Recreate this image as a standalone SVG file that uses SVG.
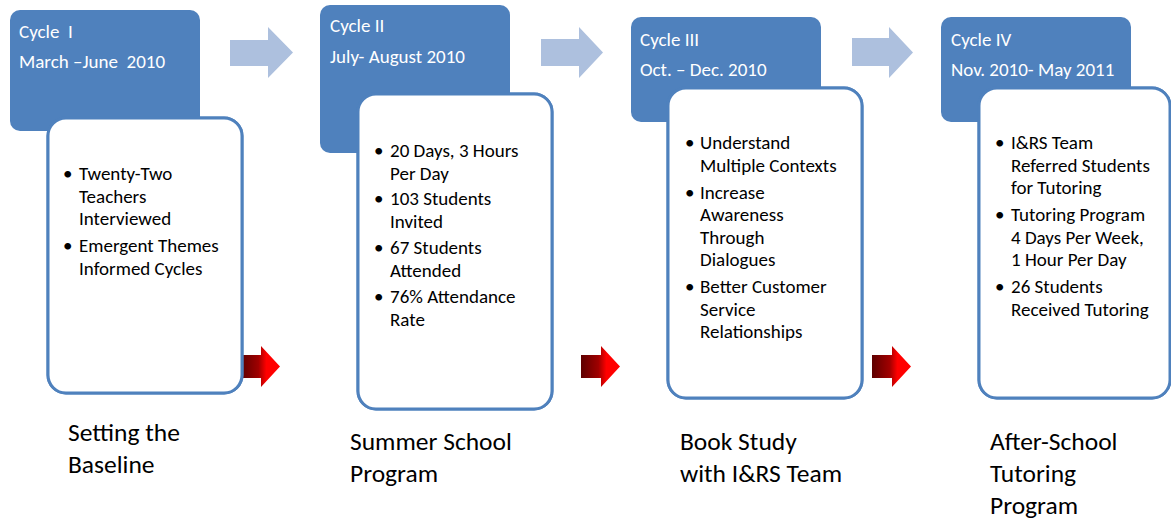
<svg xmlns="http://www.w3.org/2000/svg" width="1171" height="521" viewBox="0 0 1171 521">
<style>
text{font-family:Carlito,Calibri,Lato,"Open Sans",sans-serif;}
.head{fill:#4f81bd;}
.hd{fill:#ffffff;font-size:19px;}
.card{fill:#ffffff;stroke:#4f81bd;stroke-width:3;}
.bt{fill:#000000;font-size:19px;}
.lbl{fill:#000000;font-size:25.5px;}
.flow{fill:#adc0de;}
.red{fill:url(#redg);}
</style>
<defs>
<pattern id="dots" width="3" height="3" patternUnits="userSpaceOnUse">
<rect width="3" height="3" fill="#eef2f8"/>
<rect x="0" y="0" width="1" height="1" fill="#a9bedd"/>
<rect x="1.5" y="1.5" width="1" height="1" fill="#a9bedd"/>
</pattern>
<linearGradient id="redg" x1="0" y1="0" x2="1" y2="0">
<stop offset="0" stop-color="#5e0000"/>
<stop offset="0.45" stop-color="#a00000"/>
<stop offset="0.65" stop-color="#ff0000"/>
<stop offset="1" stop-color="#ff0000"/>
</linearGradient>
<clipPath id="c1"><rect x="48" y="118" width="194" height="275" rx="18"/></clipPath>
<clipPath id="c2"><rect x="358" y="94" width="194" height="315" rx="18"/></clipPath>
<clipPath id="c3"><rect x="668" y="88" width="194" height="310" rx="18"/></clipPath>
<clipPath id="c4"><rect x="979" y="88" width="191" height="310" rx="18"/></clipPath>
</defs>
<rect width="1171" height="521" fill="#ffffff"/>

<g id="connectors">
<path class="flow" d="M230,40 H268 V27 L293,52.5 L268,78 V66 H230 Z"/>
<path class="flow" d="M541,39 H579 V27 L603,52.5 L579,78 V66 H541 Z"/>
<path class="flow" d="M852,38 H889 V27 L913,52.5 L889,78 V66 H852 Z"/>
<path class="red" d="M241,355 H261 V346 L280,366.5 L261,387 V378 H241 Z"/>
<path class="red" d="M581,355 H601 V346 L620,366.5 L601,387 V378 H581 Z"/>
<path class="red" d="M872,355 H892 V346 L911,366.5 L892,387 V378 H872 Z"/>
</g>

<g id="cycle1">
<rect class="head" x="10" y="10" width="190" height="121" rx="10"/>
<text class="hd" x="19" y="38" xml:space="preserve">Cycle  I</text>
<text class="hd" x="19" y="68" xml:space="preserve">March –June  2010</text>
<rect class="card" x="48" y="118" width="194" height="275" rx="18" stroke="none"/>
<rect x="48" y="118" width="152" height="13" fill="url(#dots)" clip-path="url(#c1)"/>
<rect class="card" x="48" y="118" width="194" height="275" rx="18" fill="none"/>
<text class="bt"><tspan x="63" y="180">•</tspan><tspan x="79" y="180">Twenty-Two</tspan><tspan x="79" y="203">Teachers</tspan><tspan x="79" y="225">Interviewed</tspan><tspan x="63" y="252">•</tspan><tspan x="79" y="252">Emergent Themes</tspan><tspan x="79" y="275">Informed Cycles</tspan></text>
</g>

<g id="cycle2">
<rect class="head" x="320" y="5" width="190" height="148" rx="10"/>
<text class="hd" x="330" y="32">Cycle II</text>
<text class="hd" x="330" y="63">July- August 2010</text>
<rect class="card" x="358" y="94" width="194" height="315" rx="18" stroke="none"/>
<rect x="358" y="94" width="152" height="59" fill="url(#dots)" clip-path="url(#c2)"/>
<rect class="card" x="358" y="94" width="194" height="315" rx="18" fill="none"/>
<text class="bt"><tspan x="374" y="157">•</tspan><tspan x="390" y="157">20 Days, 3 Hours</tspan><tspan x="390" y="180">Per Day</tspan><tspan x="374" y="205">•</tspan><tspan x="390" y="205">103 Students</tspan><tspan x="390" y="228">Invited</tspan><tspan x="374" y="254">•</tspan><tspan x="390" y="254">67 Students</tspan><tspan x="390" y="277">Attended</tspan><tspan x="374" y="303">•</tspan><tspan x="390" y="303">76% Attendance</tspan><tspan x="390" y="326">Rate</tspan></text>
</g>

<g id="cycle3">
<rect class="head" x="631" y="17" width="190" height="105" rx="10"/>
<text class="hd" x="640" y="46">Cycle III</text>
<text class="hd" x="640" y="76">Oct. – Dec. 2010</text>
<rect class="card" x="668" y="88" width="194" height="310" rx="18" stroke="none"/>
<rect x="668" y="88" width="153" height="34" fill="url(#dots)" clip-path="url(#c3)"/>
<rect class="card" x="668" y="88" width="194" height="310" rx="18" fill="none"/>
<text class="bt"><tspan x="685" y="149">•</tspan><tspan x="700" y="149">Understand</tspan><tspan x="700" y="172">Multiple Contexts</tspan><tspan x="685" y="199">•</tspan><tspan x="700" y="199">Increase</tspan><tspan x="700" y="221">Awareness</tspan><tspan x="700" y="244">Through</tspan><tspan x="700" y="266">Dialogues</tspan><tspan x="685" y="293">•</tspan><tspan x="700" y="293">Better Customer</tspan><tspan x="700" y="316">Service</tspan><tspan x="700" y="338">Relationships</tspan></text>
</g>

<g id="cycle4">
<rect class="head" x="941" y="17" width="190" height="105" rx="10"/>
<text class="hd" x="951" y="46">Cycle IV</text>
<text class="hd" x="951" y="76">Nov. 2010- May 2011</text>
<rect class="card" x="979" y="88" width="191" height="310" rx="18" stroke="none"/>
<rect x="979" y="88" width="152" height="34" fill="url(#dots)" clip-path="url(#c4)"/>
<rect class="card" x="979" y="88" width="191" height="310" rx="18" fill="none"/>
<text class="bt"><tspan x="995" y="149">•</tspan><tspan x="1011" y="149">I&amp;RS Team</tspan><tspan x="1011" y="172">Referred Students</tspan><tspan x="1011" y="194">for Tutoring</tspan><tspan x="995" y="221">•</tspan><tspan x="1011" y="221">Tutoring Program</tspan><tspan x="1011" y="244">4 Days Per Week,</tspan><tspan x="1011" y="266">1 Hour Per Day</tspan><tspan x="995" y="293">•</tspan><tspan x="1011" y="293">26 Students</tspan><tspan x="1011" y="316">Received Tutoring</tspan></text>
</g>

<g id="label1"><text class="lbl"><tspan x="68" y="441">Setting the</tspan><tspan x="68" y="473">Baseline</tspan></text></g>
<g id="label2"><text class="lbl"><tspan x="350" y="450">Summer School</tspan><tspan x="350" y="482">Program</tspan></text></g>
<g id="label3"><text class="lbl"><tspan x="680" y="450">Book Study</tspan><tspan x="680" y="482">with I&amp;RS Team</tspan></text></g>
<g id="label4"><text class="lbl"><tspan x="990" y="450">After-School</tspan><tspan x="990" y="482">Tutoring</tspan><tspan x="990" y="514">Program</tspan></text></g>
</svg>
